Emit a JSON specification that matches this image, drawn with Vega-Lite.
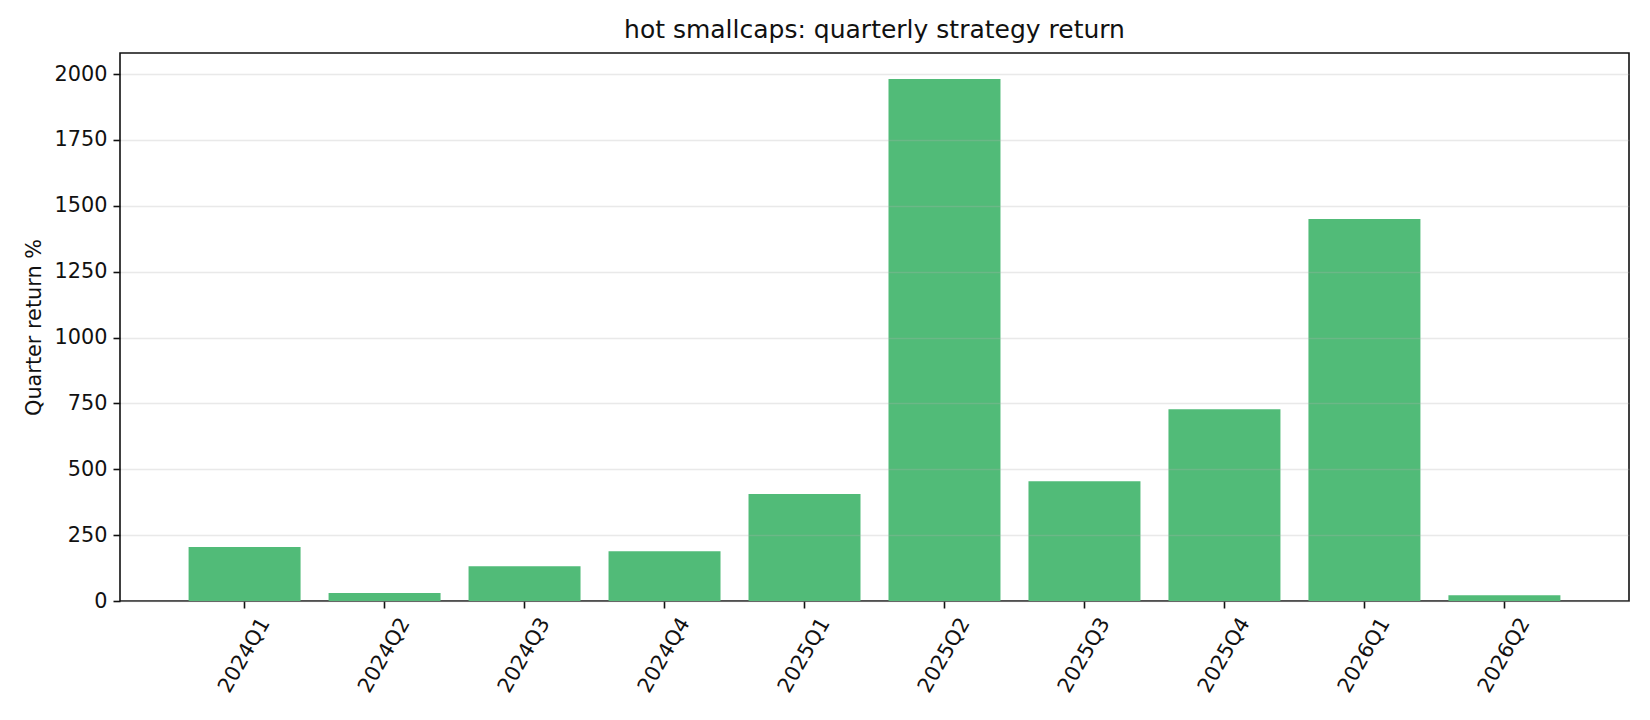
{
  "$schema": "https://vega.github.io/schema/vega-lite/v6.json",
  "autosize": {"type": "none"},
  "width": 1509,
  "height": 548,
  "padding": {"left": 120, "top": 53, "right": 21, "bottom": 119},
  "background": "white",
  "config": {
    "font": "DejaVu Sans",
    "view": {"stroke": "#111111", "strokeWidth": 1.6}
  },
  "title": {
    "text": "hot smallcaps: quarterly strategy return",
    "fontSize": 25,
    "fontWeight": "normal",
    "font": "DejaVu Sans",
    "color": "#111111",
    "anchor": "middle",
    "offset": 10
  },
  "data": {
    "values": [
      {"quarter": "2024Q1", "ret": 205},
      {"quarter": "2024Q2", "ret": 30},
      {"quarter": "2024Q3", "ret": 132},
      {"quarter": "2024Q4", "ret": 189},
      {"quarter": "2025Q1", "ret": 406},
      {"quarter": "2025Q2", "ret": 1981},
      {"quarter": "2025Q3", "ret": 455},
      {"quarter": "2025Q4", "ret": 728},
      {"quarter": "2026Q1", "ret": 1450},
      {"quarter": "2026Q2", "ret": 22}
    ]
  },
  "mark": {"type": "bar", "color": "#51bb78"},
  "encoding": {
    "x": {
      "field": "quarter",
      "type": "ordinal",
      "sort": null,
      "scale": {"paddingInner": 0.2, "paddingOuter": 0.49},
      "axis": {
        "title": null,
        "labelAngle": -60,
        "labelAlign": "center",
        "labelBaseline": "middle",
        "labelPadding": 47,
        "labelFontSize": 20.8,
        "labelColor": "#111111",
        "tickSize": 7,
        "tickColor": "#111111",
        "tickWidth": 1.6,
        "domain": false,
        "grid": false
      }
    },
    "y": {
      "field": "ret",
      "type": "quantitative",
      "scale": {"domain": [0, 2080], "nice": false, "zero": true},
      "axis": {
        "title": "Quarter return %",
        "titleFontSize": 20.8,
        "titleFontWeight": "normal",
        "titleColor": "#111111",
        "titlePadding": 10,
        "values": [0, 250, 500, 750, 1000, 1250, 1500, 1750, 2000],
        "format": "d",
        "labelFontSize": 20.8,
        "labelColor": "#111111",
        "labelPadding": 6,
        "tickSize": 7,
        "tickColor": "#111111",
        "tickWidth": 1.6,
        "domain": false,
        "grid": true,
        "gridColor": "#b0b0b0",
        "gridOpacity": 0.28,
        "gridWidth": 1.6,
        "zindex": 1
      }
    }
  }
}
